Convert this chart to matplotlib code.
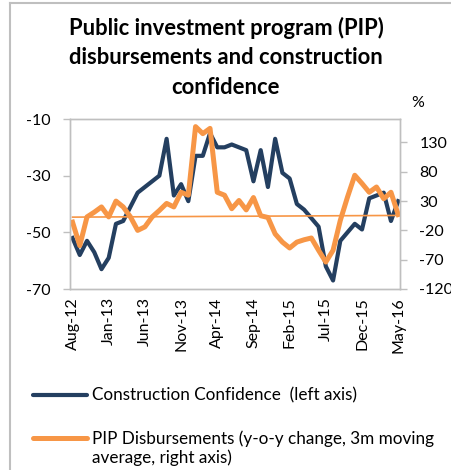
import matplotlib
matplotlib.use("Agg")
import matplotlib.pyplot as plt
from matplotlib.lines import Line2D

plt.rcParams['font.family'] = ['Lato', 'DejaVu Sans']
plt.rcParams['axes.unicode_minus'] = False

# monthly series, Aug-12 .. May-16
confidence = [-52, -58, -53, -57, -63, -59, -47, -46, -41, -36,
              -34, -32, -30, -17, -37, -33, -39, -23, -23, -15,
              -20, -20, -19, -20, -21, -32, -21, -34, -17, -29,
              -31, -40, -42, -45, -48, -62, -67, -53, -50, -47,
              -49, -38, -37, -36, -46, -39]
pip_disb = [-6, -46, 3, 11, 20, 3, 30, 20, 3, -20,
            -14, 3, 14, 26, 20, 45, 40, 157, 145, 154,
            45, 40, 17, 31, 15, 36, 5, 2, -26, -40,
            -50, -40, -36, -33, -54, -74, -54, -3, 37, 74,
            60, 45, 54, 34, 45, 7]
pip_trend = [2.6, 5.5]

tick_labels = ["Aug-12", "Jan-13", "Jun-13", "Nov-13", "Apr-14",
               "Sep-14", "Feb-15", "Jul-15", "Dec-15", "May-16"]

navy = "#243f60"
orange = "#f79646"
grey = "#bfbfbf"

fig = plt.figure(figsize=(4.52, 4.70), dpi=100)
ax = fig.add_axes([70 / 452, 1 - 289 / 470, 330 / 452, 170 / 470])
ax2 = ax.twinx()

x = list(range(len(confidence)))
ax.plot(x, confidence, color=navy, lw=3.0, solid_joinstyle="round")
ax2.plot(x, pip_disb, color=orange, lw=3.6, solid_joinstyle="round")
ax2.plot([x[0], x[-1]], pip_trend, color=orange, lw=1.2)

ax.set_xlim(-0.35, 45.25)
ax.set_ylim(-70, -10)
ax.set_yticks([-70, -50, -30, -10])
ax2.set_ylim(-120, 170)
ax2.set_yticks([-120, -70, -20, 30, 80, 130])

ax.set_xticks(list(range(0, len(confidence), 5)))
ax.set_xticklabels(tick_labels, rotation=90)

for a in (ax, ax2):
    for s in a.spines.values():
        s.set_color(grey)
        s.set_linewidth(1.0)
    a.tick_params(colors=grey, labelcolor="black", labelsize=11.5, width=1.0)
ax.tick_params(axis="y", length=5, pad=9)
ax2.tick_params(axis="y", length=5, pad=9)
ax.tick_params(axis="x", length=0, pad=6)

fig.text(418 / 452, 1 - 103 / 470, "%", fontsize=11.5, ha="center", va="center")

fig.text(0.5, 1 - 57 / 470,
         "Public investment program (PIP)\ndisbursements and construction\nconfidence",
         ha="center", va="center", fontsize=15.8, fontweight="bold",
         linespacing=1.5)

# legend below the plot
fig.add_artist(Line2D([33 / 452, 87 / 452], [1 - 395 / 470] * 2, color=navy,
                      lw=3.0, solid_capstyle="round"))
fig.add_artist(Line2D([33 / 452, 87 / 452], [1 - 438 / 470] * 2, color=orange,
                      lw=3.6, solid_capstyle="round"))
fig.text(92 / 452, 1 - 395 / 470, "Construction Confidence  (left axis)",
         fontsize=12.3, va="center")
fig.text(92 / 452, 1 - 448 / 470,
         "PIP Disbursements (y-o-y change, 3m moving\naverage, right axis)",
         fontsize=12.3, va="center", linespacing=1.15)

# chart frame edges
fig.add_artist(Line2D([9.5 / 452, 9.5 / 452], [0, 1 - 2.5 / 470], color=grey, lw=1.5))
fig.add_artist(Line2D([9.5 / 452, 1], [1 - 2.5 / 470] * 2, color=grey, lw=1.5))

fig.savefig("out.png", dpi=100)
